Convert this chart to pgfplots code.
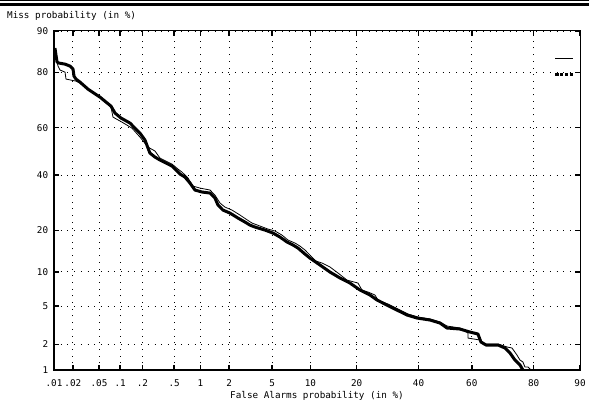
\documentclass[border=0pt]{standalone}
\usepackage{pgfplots}
\pgfplotsset{compat=1.18}
\usepackage{fontspec}
\setmainfont{DejaVu Sans Mono}
\newcommand{\tf}{\fontsize{9.3bp}{11bp}\selectfont}
\begin{document}
\begin{tikzpicture}
\useasboundingbox (0,0) rectangle (589bp,410bp);
\draw[line width=1bp] (0,409.5bp) -- (589bp,409.5bp);
\draw[line width=3bp] (0,405.8bp) -- (589bp,405.8bp);
\node[anchor=base west, inner sep=0pt, font=\tf] at (7bp,391.7bp) {Miss probability (in \%)};
\begin{axis}[
  at={(54bp,40bp)}, anchor=south west,
  scale only axis, width=526bp, height=339bp,
  xmin=-3.719, xmax=1.2816, ymin=-2.326, ymax=1.2816,
  xtick={-3.719,-3.540,-3.291,-3.090,-2.878,-2.576,-2.326,-2.054,-1.645,-1.2816,-0.8416,-0.2533,0.2533,0.8416,1.2816},
  xticklabels={.01,.02,.05,.1,.2,.5,1,2,5,10,20,40,60,80,90},
  ytick={-2.326,-2.054,-1.645,-1.2816,-0.8416,-0.2533,0.2533,0.8416,1.2816},
  yticklabels={1,2,5,10,20,40,60,80,90},
  /pgf/number format/assume math mode=true,
  ticklabel style={font=\tf, inner sep=0pt},
  xticklabel style={anchor=base, yshift=-16.7bp},
  yticklabel style={anchor=east, xshift=-5.7bp},
  xlabel={False Alarms probability (in \%)},
  xlabel style={font=\tf, inner sep=0pt, at={(axis description cs:0.5,0)}, anchor=base, yshift=-28bp},
  axis line style={line width=1bp, black},
  tick align=inside, major tick length=5bp,
  major tick style={line width=1.5bp, black},
  grid=major,
  major grid style={black, line width=0.9bp, dash pattern=on 0.9bp off 5.8bp},
  legend style={draw=none, fill=none, at={(axis description cs:1,1)}, anchor=north east,
    xshift=-4bp, yshift=-26bp, inner sep=0pt, row sep=14bp, column sep=0pt,
    nodes={inner sep=0pt}},
  legend image code/.code={\draw[#1] (0bp,0bp) -- (18bp,0bp);},
]
\addplot[black, line width=0.8bp] coordinates {
(-3.700,1.078) (-3.690,0.951) (-3.681,0.908) (-3.662,0.866) (-3.614,0.844)
(-3.605,0.770) (-3.557,0.759) (-3.510,0.748) (-3.472,0.727) (-3.396,0.663)
(-3.282,0.578) (-3.177,0.472) (-3.158,0.365) (-3.073,0.312) (-2.978,0.248)
(-2.902,0.153) (-2.825,0.046) (-2.759,0.004) (-2.711,-0.071) (-2.654,-0.103)
(-2.597,-0.135) (-2.540,-0.188) (-2.502,-0.220) (-2.445,-0.283) (-2.398,-0.369)
(-2.331,-0.390) (-2.236,-0.411) (-2.189,-0.464) (-2.141,-0.549) (-2.094,-0.592)
(-2.027,-0.624) (-1.951,-0.677) (-1.894,-0.720) (-1.837,-0.762) (-1.761,-0.794)
(-1.685,-0.826) (-1.618,-0.847) (-1.552,-0.890) (-1.495,-0.943) (-1.428,-0.975)
(-1.381,-1.007) (-1.333,-1.049) (-1.286,-1.103) (-1.229,-1.166) (-1.171,-1.188)
(-1.095,-1.230) (-1.019,-1.294) (-0.934,-1.369) (-0.829,-1.401) (-0.791,-1.475)
(-0.734,-1.496) (-0.668,-1.528) (-0.639,-1.581) (-0.544,-1.624) (-0.449,-1.677)
(-0.354,-1.730) (-0.259,-1.762) (-0.145,-1.783) (-0.050,-1.815) (0.017,-1.858)
(0.140,-1.879) (0.216,-1.932) (0.216,-1.986) (0.330,-2.007) (0.378,-2.049)
(0.502,-2.049) (0.587,-2.081) (0.635,-2.092) (0.682,-2.166) (0.711,-2.220)
(0.739,-2.241) (0.758,-2.294) (0.787,-2.294) (0.815,-2.326)
};
\addlegendentry{}
\addplot[black, line width=3bp, line join=round, legend image post style={line width=3bp, dash pattern=on 3.2bp off 1.6bp}] coordinates {
(-3.710,1.100) (-3.700,1.025) (-3.690,0.951) (-3.671,0.940) (-3.614,0.929)
(-3.567,0.908) (-3.538,0.876) (-3.529,0.802) (-3.510,0.770) (-3.472,0.738)
(-3.396,0.663) (-3.282,0.578) (-3.177,0.482) (-3.139,0.408) (-3.082,0.355)
(-2.997,0.302) (-2.959,0.259) (-2.902,0.195) (-2.854,0.121) (-2.807,-0.018)
(-2.759,-0.060) (-2.711,-0.092) (-2.654,-0.124) (-2.597,-0.156) (-2.550,-0.209)
(-2.521,-0.241) (-2.474,-0.273) (-2.426,-0.337) (-2.379,-0.411) (-2.312,-0.432)
(-2.236,-0.443) (-2.189,-0.496) (-2.160,-0.571) (-2.113,-0.624) (-2.046,-0.656)
(-1.970,-0.709) (-1.903,-0.752) (-1.856,-0.784) (-1.808,-0.805) (-1.713,-0.837)
(-1.637,-0.869) (-1.571,-0.911) (-1.504,-0.964) (-1.447,-0.996) (-1.400,-1.028)
(-1.333,-1.092) (-1.286,-1.135) (-1.190,-1.209) (-1.095,-1.284) (-1.000,-1.347)
(-0.905,-1.401) (-0.810,-1.475) (-0.715,-1.528) (-0.649,-1.581) (-0.554,-1.635)
(-0.459,-1.688) (-0.363,-1.741) (-0.268,-1.773) (-0.145,-1.794) (-0.050,-1.826)
(0.017,-1.879) (0.140,-1.890) (0.235,-1.922) (0.311,-1.943) (0.340,-2.028)
(0.388,-2.060) (0.502,-2.060) (0.568,-2.092) (0.616,-2.145) (0.663,-2.220)
(0.711,-2.273) (0.739,-2.326)
};
\addlegendentry{}
\draw[line width=2bp, black] (rel axis cs:0,1) -- (rel axis cs:0,0) -- (rel axis cs:1,0);
\end{axis}
\end{tikzpicture}
\end{document}
